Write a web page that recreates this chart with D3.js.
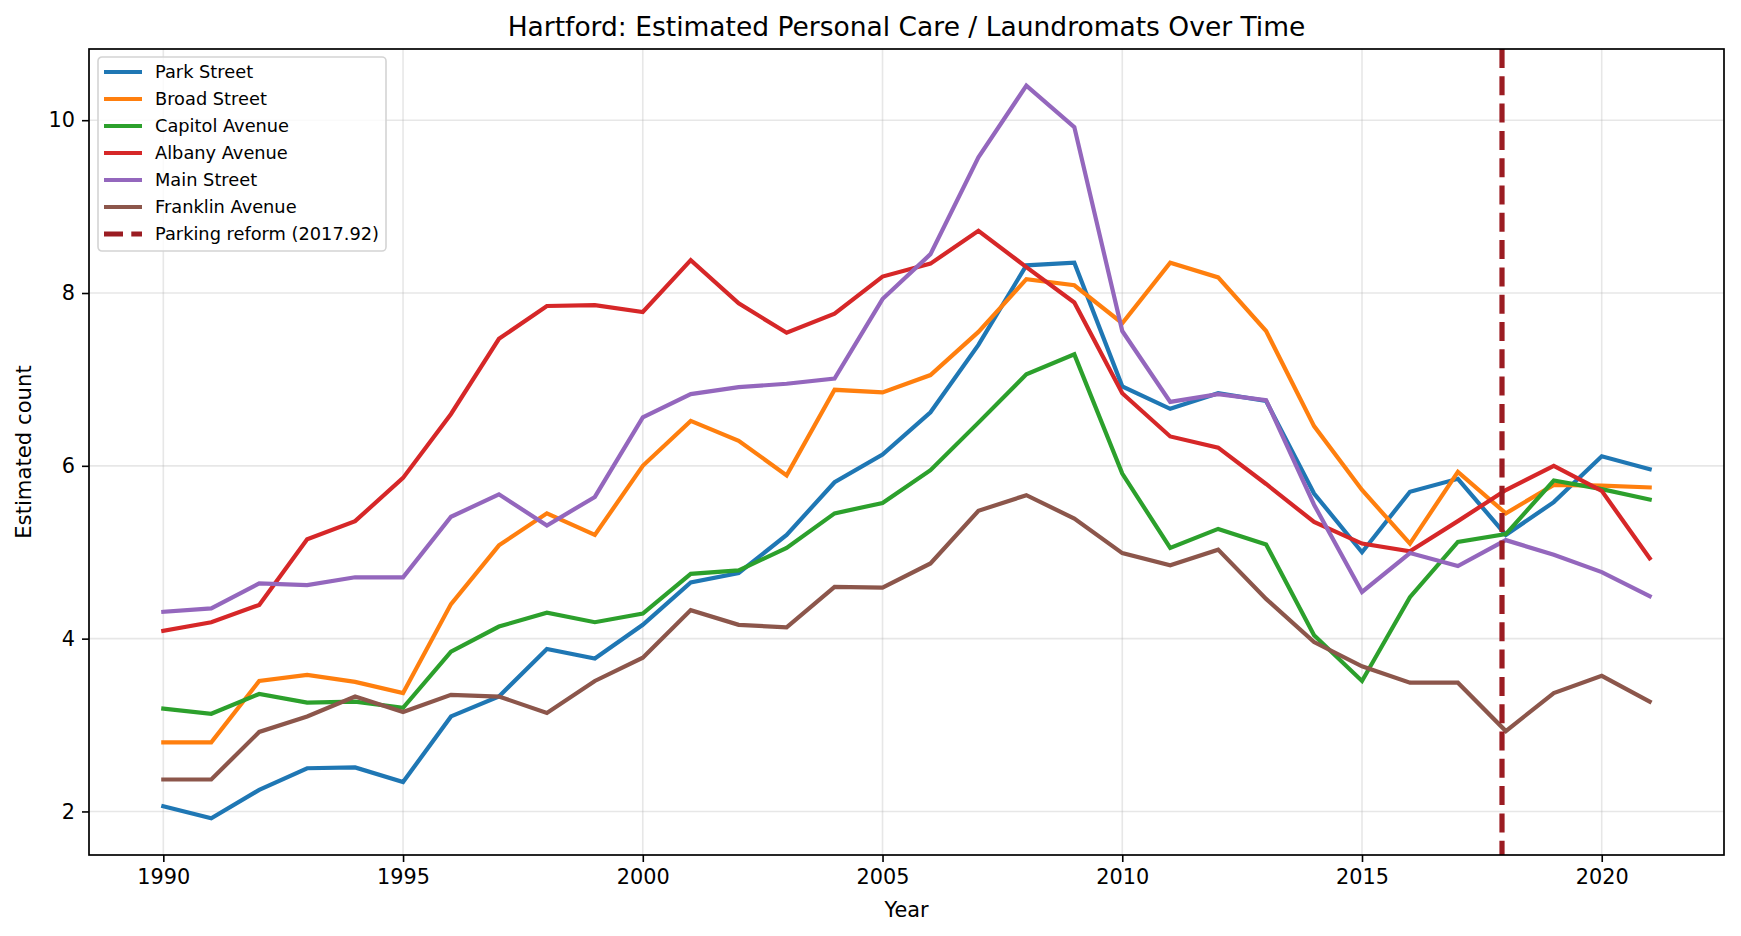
<!DOCTYPE html>
<html lang="en">
<head>
<meta charset="UTF-8">
<title>Hartford: Estimated Personal Care / Laundromats Over Time</title>
<script src="https://d3js.org/d3.v7.min.js"></script>
<style>
  body { margin: 0; background: #fff; }
  svg { display: block; font-family: "DejaVu Sans", sans-serif; }
</style>
</head>
<body>
<div id="chart"></div>
<script>
// data
const years = d3.range(1990, 2022);
const parkStreet = [2.06, 1.92, 2.25, 2.50, 2.51, 2.34, 3.10, 3.33, 3.88, 3.77, 4.16, 4.65, 4.76, 5.20, 5.81, 6.13, 6.62, 7.40, 8.32, 8.35, 6.92, 6.66, 6.84, 6.75, 5.68, 5.00, 5.70, 5.85, 5.20, 5.58, 6.11, 5.96];
const broadStreet = [2.80, 2.80, 3.51, 3.58, 3.50, 3.37, 4.40, 5.08, 5.45, 5.20, 6.00, 6.52, 6.29, 5.89, 6.88, 6.85, 7.05, 7.55, 8.16, 8.09, 7.65, 8.35, 8.18, 7.56, 6.46, 5.72, 5.10, 5.93, 5.45, 5.78, 5.77, 5.75];
const capitolAvenue = [3.19, 3.13, 3.36, 3.26, 3.27, 3.20, 3.85, 4.14, 4.30, 4.19, 4.29, 4.75, 4.79, 5.05, 5.45, 5.57, 5.95, 6.50, 7.06, 7.29, 5.91, 5.05, 5.27, 5.09, 4.04, 3.51, 4.48, 5.12, 5.21, 5.83, 5.73, 5.61];
const albanyAvenue = [4.09, 4.19, 4.39, 5.15, 5.36, 5.86, 6.60, 7.47, 7.85, 7.86, 7.78, 8.38, 7.88, 7.54, 7.76, 8.19, 8.34, 8.72, 8.30, 7.89, 6.84, 6.34, 6.21, 5.79, 5.35, 5.10, 5.01, 5.36, 5.72, 6.00, 5.71, 4.93];
const mainStreet = [4.31, 4.35, 4.64, 4.62, 4.71, 4.71, 5.41, 5.67, 5.31, 5.64, 6.56, 6.83, 6.91, 6.95, 7.01, 7.93, 8.45, 9.57, 10.40, 9.92, 7.56, 6.74, 6.83, 6.76, 5.55, 4.54, 4.99, 4.84, 5.14, 4.97, 4.77, 4.49];
const franklinAvenue = [2.37, 2.37, 2.92, 3.10, 3.33, 3.15, 3.35, 3.33, 3.14, 3.51, 3.78, 4.33, 4.16, 4.13, 4.60, 4.59, 4.87, 5.48, 5.66, 5.39, 4.99, 4.85, 5.03, 4.46, 3.96, 3.68, 3.49, 3.49, 2.93, 3.37, 3.57, 3.27];

const seriesNames = ["Park Street", "Broad Street", "Capitol Avenue", "Albany Avenue", "Main Street", "Franklin Avenue"];
const seriesValues = [parkStreet, broadStreet, capitolAvenue, albanyAvenue, mainStreet, franklinAvenue];
const seriesColors = ["#1f77b4", "#ff7f0e", "#2ca02c", "#d62728", "#9467bd", "#8c564b"];

const reformYear = 2017.92;
const reformLabel = "Parking reform (2017.92)";
const xTicks = [1990, 1995, 2000, 2005, 2010, 2015, 2020];
const yTicks = [2, 4, 6, 8, 10];

const width = 1741, height = 936;
const margin = {top: 49, right: 17, bottom: 81, left: 89};
const iw = width - margin.left - margin.right;
const ih = height - margin.top - margin.bottom;

const svg = d3.select("#chart").append("svg")
  .attr("width", width)
  .attr("height", height);

// matplotlib style 5% padding
const allVals = seriesValues.flat();
const yMin = d3.min(allVals), yMax = d3.max(allVals);
const xPad = (years[years.length - 1] - years[0]) * 0.05;
const yPad = (yMax - yMin) * 0.05;

const x = d3.scaleLinear()
  .domain([years[0] - xPad, years[years.length - 1] + xPad])
  .range([0, iw]);
const y = d3.scaleLinear()
  .domain([yMin - yPad, yMax + yPad])
  .range([ih, 0]);

const g = svg.append("g").attr("transform", `translate(${margin.left},${margin.top})`);

// grid
g.append("g").selectAll("line").data(xTicks).join("line")
  .attr("x1", d => x(d)).attr("x2", d => x(d))
  .attr("y1", 0).attr("y2", ih)
  .attr("stroke", "#b0b0b0").attr("stroke-opacity", 0.3).attr("stroke-width", 1.6);
g.append("g").selectAll("line").data(yTicks).join("line")
  .attr("y1", d => y(d)).attr("y2", d => y(d))
  .attr("x1", 0).attr("x2", iw)
  .attr("stroke", "#b0b0b0").attr("stroke-opacity", 0.3).attr("stroke-width", 1.6);

// lines
const line = d3.line().x((d, i) => x(years[i])).y(d => y(d));
g.append("g").selectAll("path").data(seriesValues).join("path")
  .attr("d", d => line(d))
  .attr("fill", "none")
  .attr("stroke", (d, i) => seriesColors[i])
  .attr("stroke-width", 4.2)
  .attr("stroke-linejoin", "miter")
  .attr("stroke-linecap", "square");

// reform marker
g.append("line")
  .attr("x1", x(reformYear)).attr("x2", x(reformYear))
  .attr("y1", 0).attr("y2", ih)
  .attr("stroke", "#9b1c22")
  .attr("stroke-width", 5.2)
  .attr("stroke-dasharray", "19,8.3");

// axes
const xAxis = g.append("g").attr("transform", `translate(0,${ih})`)
  .call(d3.axisBottom(x).tickValues(xTicks).tickFormat(d3.format("d")).tickSize(7).tickPadding(7));
const yAxis = g.append("g")
  .call(d3.axisLeft(y).tickValues(yTicks).tickSize(7).tickPadding(7));
[xAxis, yAxis].forEach(a => {
  a.select(".domain").remove();
  a.selectAll(".tick line").attr("stroke", "#000").attr("stroke-width", 1.6);
  a.selectAll(".tick text").attr("fill", "#000").style("font-size", "20.8px").style("font-family", "DejaVu Sans");
});

// frame
g.append("rect")
  .attr("width", iw).attr("height", ih)
  .attr("fill", "none").attr("stroke", "#000").attr("stroke-width", 1.7);

// title and labels
svg.append("text")
  .attr("x", margin.left + iw / 2).attr("y", 36)
  .attr("text-anchor", "middle")
  .style("font-size", "26.5px")
  .text("Hartford: Estimated Personal Care / Laundromats Over Time");
svg.append("text")
  .attr("x", margin.left + iw / 2).attr("y", 917)
  .attr("text-anchor", "middle")
  .style("font-size", "20.8px")
  .text("Year");
svg.append("text")
  .attr("transform", `translate(31,${margin.top + ih / 2}) rotate(-90)`)
  .attr("text-anchor", "middle")
  .style("font-size", "21.2px")
  .text("Estimated count");

// legend
const legend = svg.append("g").attr("transform", "translate(98,57)");
legend.append("rect")
  .attr("width", 288).attr("height", 194)
  .attr("rx", 4)
  .attr("fill", "#fff").attr("fill-opacity", 0.8)
  .attr("stroke", "#d4d4d4").attr("stroke-width", 1.6);
const legendItems = seriesNames.map((n, i) => ({name: n, color: seriesColors[i], dash: null}))
  .concat([{name: reformLabel, color: "#9b1c22", dash: "19,8.3"}]);
const rows = legend.selectAll("g.row").data(legendItems).join("g")
  .attr("class", "row")
  .attr("transform", (d, i) => `translate(0,${15 + i * 27})`);
rows.append("line")
  .attr("x1", 6).attr("x2", 44)
  .attr("stroke", d => d.color)
  .attr("stroke-width", d => d.dash ? 5.2 : 4.2)
  .attr("stroke-dasharray", d => d.dash);
rows.append("text")
  .attr("x", 57).attr("dy", "0.35em")
  .style("font-size", "17.8px")
  .text(d => d.name);
</script>
</body>
</html>
